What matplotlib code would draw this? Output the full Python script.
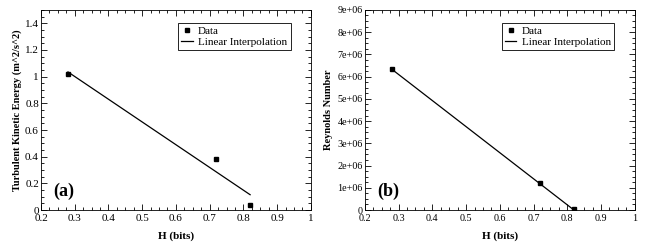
import matplotlib.pyplot as plt
from matplotlib.ticker import MultipleLocator

# (a) turbulent kinetic energy vs entropy
h_data = [0.28, 0.72, 0.82]
tke_data = [1.02, 0.38, 0.035]
tke_line_x = [0.28, 0.82]
tke_line_y = [1.035, 0.115]

# (b) reynolds number vs entropy
re_data = [6.35e6, 1.2e6, 0.05e6]
re_line_x = [0.28, 0.82]
re_line_y = [6.33e6, 0.0]

x_ticks = [0.2, 0.3, 0.4, 0.5, 0.6, 0.7, 0.8, 0.9, 1.0]
x_labels = ['0.2', '0.3', '0.4', '0.5', '0.6', '0.7', '0.8', '0.9', '1']
tke_ticks = [0, 0.2, 0.4, 0.6, 0.8, 1.0, 1.2, 1.4]
tke_labels = ['0', '0.2', '0.4', '0.6', '0.8', '1', '1.2', '1.4']
re_ticks = [0, 1e6, 2e6, 3e6, 4e6, 5e6, 6e6, 7e6, 8e6, 9e6]
re_labels = ['0', '1e+06', '2e+06', '3e+06', '4e+06', '5e+06',
             '6e+06', '7e+06', '8e+06', '9e+06']

plt.rcParams['font.family'] = ['Liberation Serif', 'DejaVu Serif']
plt.rcParams['font.size'] = 8

fig = plt.figure(figsize=(6.47, 2.48), dpi=100)
ax1 = fig.add_axes([0.0634, 0.153, 0.417, 0.807])
ax2 = fig.add_axes([0.564, 0.153, 0.417, 0.807])


def style(ax, tick_size):
    ax.set_xlim(0.2, 1.0)
    ax.xaxis.set_minor_locator(MultipleLocator(0.025))
    ax.set_xticks(x_ticks)
    ax.set_xticklabels(x_labels)
    ax.tick_params(which='both', direction='in', top=True, right=True,
                   width=0.6, pad=1.5, labelsize=tick_size)
    ax.tick_params(axis='x', pad=3)
    ax.tick_params(which='major', length=4)
    ax.tick_params(which='minor', length=2)
    for s in ax.spines.values():
        s.set_linewidth(0.6)
    ax.set_xlabel('H (bits)', fontweight='bold', fontsize=8, labelpad=6)
    leg = ax.legend(loc='upper right', fancybox=False, edgecolor='black',
                    framealpha=1, handlelength=1.0, handletextpad=0.5,
                    fontsize=8, borderpad=0.3, labelspacing=0.1,
                    borderaxespad=0, bbox_to_anchor=(0.925, 0.935))
    leg.get_frame().set_linewidth(0.6)


# panel a
ax1.plot(h_data, tke_data, 's', color='black', markersize=3.2, label='Data')
ax1.plot(tke_line_x, tke_line_y, '-', color='black', linewidth=0.9,
         label='Linear Interpolation')
style(ax1, 8)
ax1.set_ylim(0, 1.5)
ax1.yaxis.set_minor_locator(MultipleLocator(0.05))
ax1.set_yticks(tke_ticks)
ax1.set_yticklabels(tke_labels)
ax1.set_ylabel('Turbulent Kinetic Energy (m^2/s^2)', fontweight='bold',
               fontsize=7.5, labelpad=2)
ax1.text(0.267, 0.14, '(a)', fontsize=13, fontweight='bold',
         ha='center', va='center')

# panel b
ax2.plot(h_data, re_data, 's', color='black', markersize=3.2, label='Data')
ax2.plot(re_line_x, re_line_y, '-', color='black', linewidth=0.9,
         label='Linear Interpolation')
style(ax2, 7.3)
ax2.set_ylim(0, 9e6)
ax2.yaxis.set_minor_locator(MultipleLocator(0.25e6))
ax2.set_yticks(re_ticks)
ax2.set_yticklabels(re_labels)
ax2.set_ylabel('Reynolds Number', fontweight='bold', fontsize=7.5, labelpad=3)
ax2.text(0.27, 0.82e6, '(b)', fontsize=13, fontweight='bold',
         ha='center', va='center')

plt.savefig('out.png', dpi=100)
